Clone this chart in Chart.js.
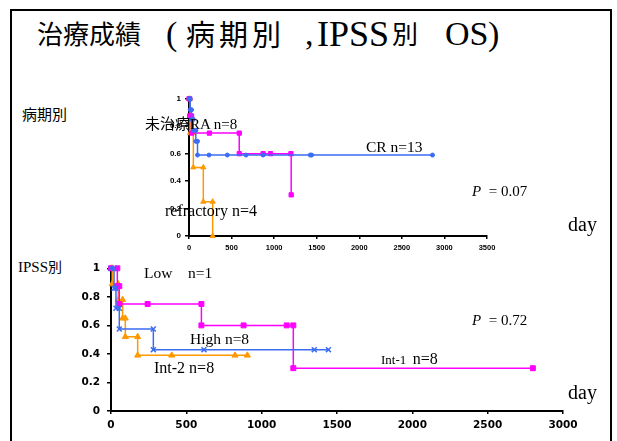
<!DOCTYPE html>
<html>
<head>
<meta charset="utf-8">
<script src="https://cdn.jsdelivr.net/npm/chart.js@4.4.1/dist/chart.umd.min.js"></script>
<style>
body { margin: 0; width: 617px; height: 441px; overflow: hidden; background: #fff; position: relative;
       font-family: "Liberation Serif", "Noto Sans CJK JP", serif; color: #000; }
.frame { position: absolute; left: 10px; top: 9px; width: 598px; height: 460px; border: 2px solid #000; border-bottom: none; }
.t { position: absolute; white-space: pre; line-height: 1; transform: translateY(-50%); font-family: "Liberation Serif", serif; }
.jp { font-family: "Noto Sans CJK JP", sans-serif; }
canvas { position: absolute; }
</style>
</head>
<body>
<div class="frame"></div>

<!-- title, piece by piece -->
<div class="t jp" style="left:37px;top:33px;font-size:26px;">治療成績</div>
<div class="t" style="left:166px;top:34px;font-size:34px;">(</div>
<div class="t jp" style="left:186px;top:33px;font-size:29px;letter-spacing:4px;">病期別</div>
<div class="t" style="left:305px;top:34px;font-size:34px;">,</div>
<div class="t" style="left:317px;top:34px;font-size:36px;">IPSS</div>
<div class="t jp" style="left:392px;top:33px;font-size:26px;">別</div>
<div class="t" style="left:445px;top:34px;font-size:34px;">OS</div>
<div class="t" style="left:488px;top:34px;font-size:34px;">)</div>

<canvas id="stageChart" width="350" height="165" style="left:150px;top:90px;"></canvas>
<canvas id="ipssChart" width="520" height="186" style="left:70px;top:255px;"></canvas>

<div class="t jp" style="left:22px;top:113px;font-size:15px;">病期別</div>
<div class="t" style="left:145px;top:123px;font-size:15px;"><span class="jp">未治療</span>RA n=8</div>
<div class="t" style="left:366px;top:147px;font-size:15.5px;">CR n=13</div>
<div class="t" style="left:472px;top:191px;font-size:15px;"><i>P</i>  = 0.07</div>
<div class="t" style="left:165px;top:211px;font-size:16px;">refractory n=4</div>
<div class="t" style="left:568px;top:224px;font-size:20px;">day</div>

<div class="t" style="left:18px;top:267px;font-size:15px;">IPSS<span class="jp" style="font-size:14px">別</span></div>
<div class="t" style="left:144px;top:273px;font-size:15.5px;">Low    n=1</div>
<div class="t" style="left:190px;top:339px;font-size:15.5px;">High n=8</div>
<div class="t" style="left:154px;top:368px;font-size:16px;">Int-2 n=8</div>
<div class="t" style="left:472px;top:320px;font-size:15px;"><i>P</i>  = 0.72</div>
<div class="t" style="left:381px;top:359px;font-size:13px;">Int-1  <span style="font-size:16px">n=8</span></div>
<div class="t" style="left:568px;top:392px;font-size:20px;">day</div>

<script>
// 病期別 (stage) survival curves: days and survival fraction
const raDays  = [0, 8, 8, 30, 30, 239, 590, 590, 870, 958, 1197, 1200];
const raSurv  = [1, 1, 0.875, 0.875, 0.75, 0.75, 0.75, 0.6, 0.6, 0.6, 0.6, 0.3];
const crDays  = [0, 15, 15, 30, 30, 50, 50, 80, 80, 100, 100, 235, 450, 670, 870, 1424, 1440, 2860];
const crSurv  = [1, 1, 0.92, 0.92, 0.85, 0.85, 0.77, 0.77, 0.69, 0.69, 0.59, 0.59, 0.59, 0.59, 0.59, 0.59, 0.59, 0.59];
const refDays = [0, 12, 12, 51, 51, 168, 168, 278, 278];
const refSurv = [1, 1, 0.75, 0.75, 0.5, 0.5, 0.25, 0.25, 0];

// IPSS別 survival curves
const int1Days = [0, 42, 42, 55, 55, 243, 600, 600, 880, 1166, 1210, 1210, 2800];
const int1Surv = [1, 1, 0.875, 0.875, 0.75, 0.75, 0.75, 0.6, 0.6, 0.6, 0.6, 0.3, 0.3];
const highDays = [0, 20, 20, 33, 33, 55, 55, 281, 281, 617, 1349, 1443];
const highSurv = [1, 1, 0.86, 0.86, 0.72, 0.72, 0.575, 0.575, 0.43, 0.43, 0.43, 0.43];
const int2Days = [0, 8, 8, 48, 48, 77, 77, 95, 95, 177, 177, 403, 823, 905];
const int2Surv = [1, 1, 0.89, 0.89, 0.78, 0.78, 0.65, 0.65, 0.52, 0.52, 0.39, 0.39, 0.39, 0.39];

// tick labels
const yTickLabels = ['0', '0.2', '0.4', '0.6', '0.8', '1'];
const stageXTicks = ['0', '500', '1000', '1500', '2000', '2500', '3000', '3500'];
const ipssXTicks  = ['0', '500', '1000', '1500', '2000', '2500', '3000'];

const MAGENTA = '#ff00ff';
const BLUE = '#3a6cf4';
const ORANGE = '#ff9900';

function pts(days, surv) {
    return days.map((d, i) => ({ x: d, y: surv[i] }));
}

function curve(days, surv, color, style, radius, width) {
    return {
        data: pts(days, surv),
        borderColor: color,
        backgroundColor: color,
        borderWidth: width,
        stepped: true,
        pointStyle: style,
        pointRadius: radius,
        pointBorderWidth: style === 'crossRot' ? 1.5 : 1,
        clip: 8
    };
}

function kmChart(id, datasets, xLabels, s) {
    new Chart(document.getElementById(id), {
        type: 'line',
        data: { datasets: datasets },
        options: {
            responsive: false,
            animation: false,
            layout: { padding: { left: 0, right: s.right, top: s.top, bottom: 0 } },
            plugins: { legend: { display: false }, tooltip: { enabled: false } },
            scales: {
                x: {
                    type: 'linear', min: 0, max: (xLabels.length - 1) * 500,
                    grid: { display: true, drawOnChartArea: false, color: '#000', tickLength: 3, lineWidth: 1.5 },
                    border: { color: '#000', width: 2 },
                    ticks: { stepSize: 500, color: '#000', padding: s.xPad, maxRotation: 0,
                             callback: (v, i) => xLabels[i],
                             font: { family: s.xFamily, size: s.xSize, weight: 'bold' } },
                    afterFit: (a) => { a.height = s.xH; }
                },
                y: {
                    min: 0, max: 1,
                    grid: { display: true, drawOnChartArea: false, color: '#000', tickLength: 4, lineWidth: 1.5 },
                    border: { color: '#000', width: 2 },
                    ticks: { stepSize: 0.2, color: '#000', padding: s.yPad,
                             callback: (v, i) => yTickLabels[i],
                             font: { family: s.yFamily, size: s.ySize, weight: 'bold' } },
                    afterFit: (a) => { a.width = s.yW; }
                }
            }
        }
    });
}

kmChart('stageChart', [
    curve(crDays, crSurv, BLUE, 'circle', 2, 1.5),
    curve(raDays, raSurv, MAGENTA, 'rect', 3, 1.5),
    curve(refDays, refSurv, ORANGE, 'triangle', 3, 1.5)
], stageXTicks, { right: 13, top: 7, xH: 19, yW: 39, xPad: 4, yPad: 4,
           xFamily: 'Liberation Sans', xSize: 7.5, yFamily: 'Liberation Sans', ySize: 8 });

kmChart('ipssChart', [
    curve(highDays, highSurv, BLUE, 'crossRot', 3.5, 1.5),
    curve(int1Days, int1Surv, MAGENTA, 'rect', 3.5, 1.5),
    curve(int2Days, int2Surv, ORANGE, 'triangle', 3.5, 1.5)
], ipssXTicks, { right: 27, top: 10, xH: 30, yW: 41, xPad: 5, yPad: 7,
           xFamily: 'DejaVu Sans', xSize: 10.5, yFamily: 'DejaVu Sans', ySize: 10.5 });
</script>
</body>
</html>
